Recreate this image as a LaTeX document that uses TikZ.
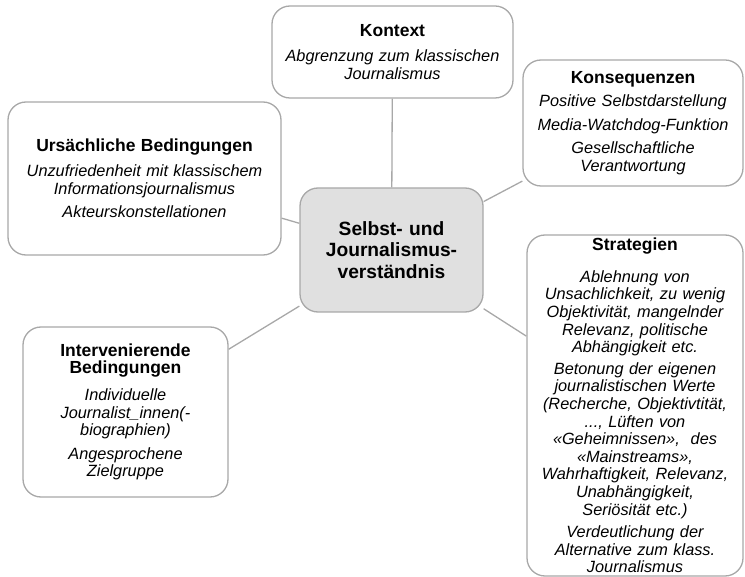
\documentclass[tikz,border=0pt]{standalone}
\usepackage{fontspec}
\setmainfont{Liberation Sans}
\usetikzlibrary{positioning}

\definecolor{boxgray}{HTML}{A8A8A8}
\definecolor{hubfill}{HTML}{E0E0E0}

\newcommand{\boxtitle}[1]{{\fontsize{17.5}{19}\selectfont\bfseries #1}}

\tikzset{
  box/.style={draw=boxgray, line width=1.3pt, rounded corners=18pt, fill=white,
    inner sep=0pt, align=center, font=\fontsize{16.3}{17.6}\selectfont},
  hub/.style={box, fill=hubfill, font=\fontsize{19.2}{21.5}\selectfont\bfseries},
  link/.style={draw=boxgray, line width=1.3pt}
}

\begin{document}
\begin{tikzpicture}[x=1pt, y=-1pt]
\useasboundingbox (0,0) rectangle (745,577);

% centre
\node[hub, minimum width=183, minimum height=124, text width=175] (hub) at (391.5,250)
  {Selbst- und\\Journalismus-\\verständnis};

% the five boxes around it
\node[box, minimum width=241, minimum height=92, text width=236] (kontext) at (392.5,52)
  {\boxtitle{Kontext}\\[7pt]\itshape Abgrenzung zum klassischen\\Journalismus};
\node[box, minimum width=220, minimum height=126, text width=216] (konseq) at (633,123)
  {\boxtitle{Konsequenzen}\\[6pt]\itshape Positive Selbstdarstellung\\[6pt]
   Media-Watchdog-Funktion\\[6pt]Gesellschaftliche\\Verantwortung};
\node[box, minimum width=273, minimum height=153, text width=266] (ursach) at (144.5,178.5)
  {\boxtitle{Ursächliche Bedingungen}\\[7pt]\itshape Unzufriedenheit mit klassischem\\
   Informationsjournalismus\\[6pt]Akteurskonstellationen};
\node[box, minimum width=216, minimum height=341, text width=212] (strat) at (635,405.5)
  {\boxtitle{Strategien}\\[14pt]\itshape Ablehnung von\\Unsachlichkeit, zu wenig\\
   Objektivität, mangelnder\\Relevanz, politische\\Abhängigkeit etc.\\[4pt]
   Betonung der eigenen\\journalistischen Werte\\(Recherche, Objektivtität,\\
   ..., Lüften von\\«Geheimnissen»,\ \ des\\«Mainstreams»,\\
   Wahrhaftigkeit, Relevanz,\\Unabhängigkeit,\\Seriösität etc.)\\[5pt]
   Verdeutlichung der\\Alternative zum klass.\\Journalismus};
\node[box, minimum width=205, minimum height=170, text width=200] (interv) at (125.5,412)
  {\boxtitle{Intervenierende\\Bedingungen}\\[9pt]\itshape Individuelle\\
   Journalist\_innen(-\\biographien)\\[6pt]Angesprochene\\Zielgruppe};

\draw[link] (hub) -- (kontext);
\draw[link] (hub) -- (konseq);
\draw[link] (hub) -- (ursach);
\draw[link] (hub) -- (strat);
\draw[link] (hub) -- (interv);
\end{tikzpicture}
\end{document}
